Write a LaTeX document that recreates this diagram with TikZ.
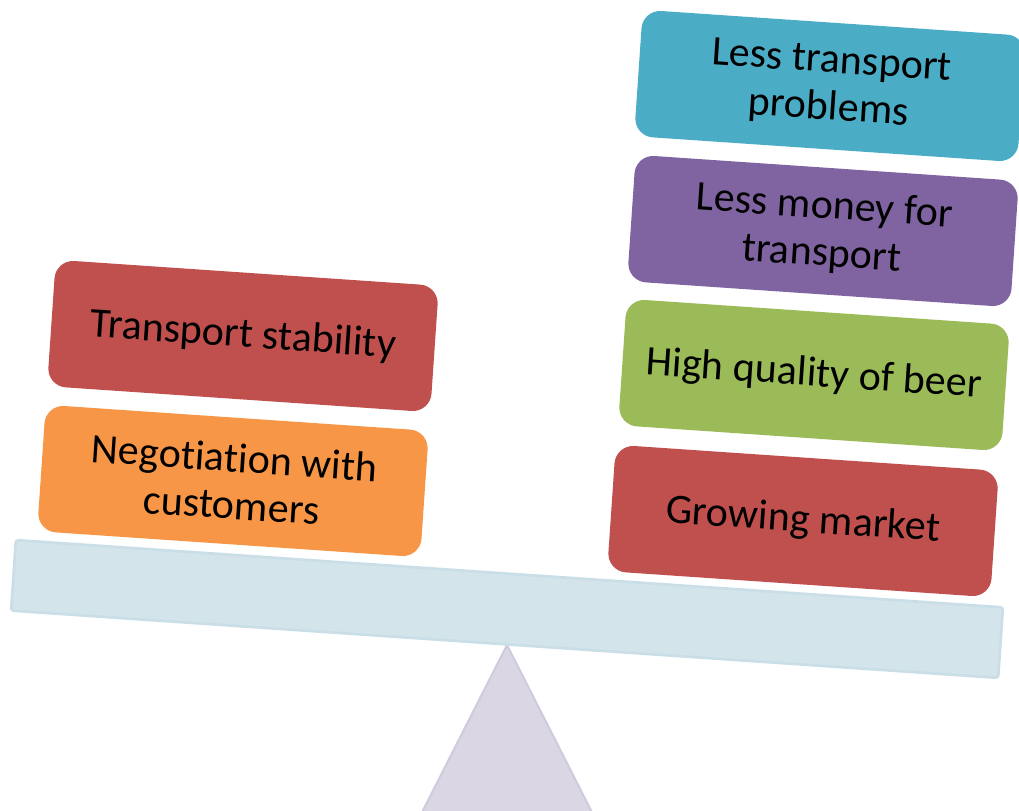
\documentclass[tikz,border=0pt]{standalone}
\usepackage{fontspec}
\setmainfont[Ligatures={NoCommon,NoContextual,NoRequired},RawFeature={-liga;-clig;-calt;-dlig;-rlig}]{Carlito}
\usetikzlibrary{positioning}

\definecolor{aqua}{RGB}{75,172,198}
\definecolor{plum}{RGB}{128,100,162}
\definecolor{olive}{RGB}{155,187,89}
\definecolor{brick}{RGB}{192,80,77}
\definecolor{tangerine}{RGB}{247,150,70}
\definecolor{beamfill}{RGB}{212,228,235}
\definecolor{beamline}{RGB}{201,222,231}
\definecolor{pivotfill}{RGB}{218,214,228}
\definecolor{pivotline}{RGB}{208,202,222}

\begin{document}
\begin{tikzpicture}[x=0.75pt,y=0.75pt,
    card/.style={rounded corners=14pt,minimum width=288pt,minimum height=95pt,
      inner sep=0pt,align=center,rotate=-3.9,font=\fontsize{31.5}{35.5}\selectfont},
    plank/.style={draw=beamline,line width=2pt,fill=beamfill,rounded corners=2pt,
      minimum width=742pt,minimum height=53pt,rotate=-3.9}]
  \clip (0,0) rectangle (1019,810);

  % fulcrum
  \coordinate (tip) at (507,165);
  \coordinate (bl) at (413,-20);
  \coordinate (br) at (601,-20);
  \fill[pivotfill,draw=pivotline,line width=1.5pt] (tip) -- (bl) -- (br) -- cycle;

  % tilted beam
  \node[plank] (beam) at (507,201) {};

  % left side
  \node[card,fill=brick] (stability) at (243,474) {Transport stability};
  \node[card,fill=tangerine] (negotiation) at (233,329) {Negotiation with\\customers};

  % right side
  \node[card,fill=aqua] (lessprob) at (830,724) {Less transport\\problems};
  \node[card,fill=plum] (lessmoney) at (823,579) {Less money for\\transport};
  \node[card,fill=olive] (quality) at (814,435) {High quality of beer};
  \node[card,fill=brick] (market) at (803,289) {Growing market};
\end{tikzpicture}
\end{document}
